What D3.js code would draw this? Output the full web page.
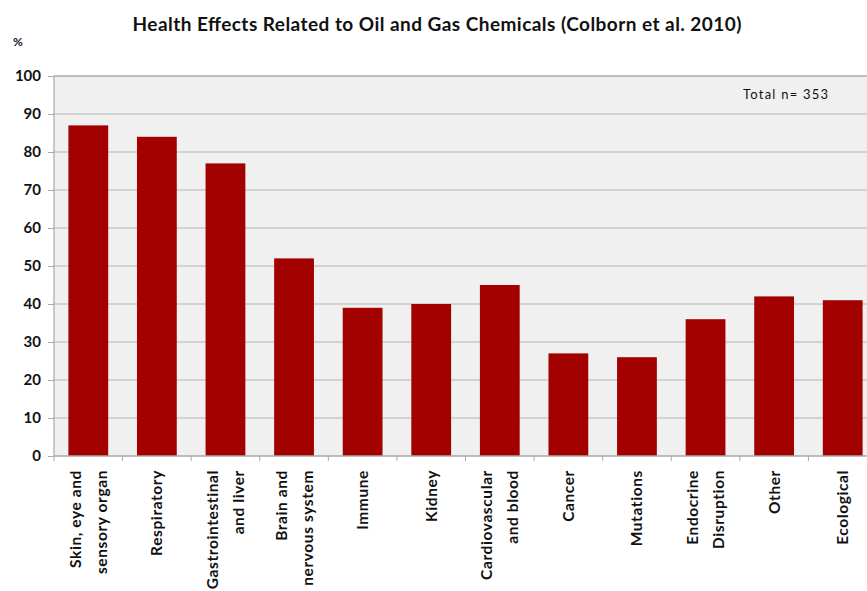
<!DOCTYPE html>
<html>
<head>
<meta charset="utf-8">
<script src="https://cdn.jsdelivr.net/npm/d3@7"></script>
<style>
  body { margin: 0; background: #fff; }
  svg { display: block; font-family: Lato, "Open Sans", sans-serif; }
</style>
</head>
<body>
<svg id="chart" width="867" height="591"></svg>
<script>
// categories (two lines where the label wraps)
var categories = [
  ["Skin, eye and", "sensory organ"],
  ["Respiratory"],
  ["Gastrointestinal", "and liver"],
  ["Brain and", "nervous system"],
  ["Immune"],
  ["Kidney"],
  ["Cardiovascular", "and blood"],
  ["Cancer"],
  ["Mutations"],
  ["Endocrine", "Disruption"],
  ["Other"],
  ["Ecological"]
];
var values = [87, 84, 77, 52, 39, 40, 45, 27, 26, 36, 42, 41];
var yTicks = [0, 10, 20, 30, 40, 50, 60, 70, 80, 90, 100];

var svg = d3.select("#chart");
var margin = {top: 76, left: 54, bottom: 135},
    plotW = 823,
    plotH = 591 - margin.top - margin.bottom;

var x = d3.scaleBand().domain(d3.range(categories.length)).range([margin.left, margin.left + plotW]).paddingInner(0.42).paddingOuter(0.21);
var y = d3.scaleLinear().domain([0, 100]).range([margin.top + plotH, margin.top]);

// plot background
svg.append("rect")
  .attr("x", margin.left).attr("y", margin.top)
  .attr("width", plotW).attr("height", plotH)
  .attr("fill", "#f0f0f0");

// gridlines
svg.append("g").selectAll("line")
  .data(yTicks.slice(1))
  .enter().append("line")
  .attr("x1", margin.left).attr("x2", margin.left + plotW)
  .attr("y1", function (d) { return y(d); })
  .attr("y2", function (d) { return y(d); })
  .attr("stroke", function (d) { return d === 100 ? "#bdbdbd" : "#c9c9c9"; })
  .attr("stroke-width", function (d) { return d === 100 ? 2 : 1.3; });

// left axis line
svg.append("line")
  .attr("x1", margin.left).attr("x2", margin.left)
  .attr("y1", margin.top).attr("y2", y(0))
  .attr("stroke", "#a8a8a8").attr("stroke-width", 1.2);

// bars
svg.append("g").selectAll("rect")
  .data(values)
  .enter().append("rect")
  .attr("x", function (d, i) { return x(i); })
  .attr("y", function (d) { return y(d); })
  .attr("width", x.bandwidth())
  .attr("height", function (d) { return y(0) - y(d); })
  .attr("fill", "#a30000");

// y axis
var yAxis = svg.append("g")
  .attr("transform", "translate(" + margin.left + ",0)")
  .call(d3.axisLeft(y).tickValues(yTicks).tickSize(6).tickPadding(7));
yAxis.select(".domain").remove();
yAxis.selectAll("line").attr("stroke", "#a8a8a8");
yAxis.selectAll("text")
  .attr("fill", "#111").style("font-size", "15px").style("font-weight", "bold")
  .style("font-family", "Lato, sans-serif");

// x axis baseline and ticks at category boundaries
svg.append("line")
  .attr("x1", margin.left).attr("x2", margin.left + plotW)
  .attr("y1", y(0)).attr("y2", y(0))
  .attr("stroke", "#a8a8a8").attr("stroke-width", 1.5);

var step = x.step();
svg.append("g").selectAll("line")
  .data(d3.range(categories.length + 1))
  .enter().append("line")
  .attr("x1", function (i) { return margin.left + i * step; })
  .attr("x2", function (i) { return margin.left + i * step; })
  .attr("y1", y(0)).attr("y2", y(0) + 5)
  .attr("stroke", "#a8a8a8");

// category labels, rotated
var labels = svg.append("g").selectAll("text")
  .data(categories)
  .enter().append("text")
  .attr("transform", function (d, i) {
    return "translate(" + (x(i) + x.bandwidth() / 2) + "," + (y(0) + 14) + ") rotate(-90)";
  })
  .attr("text-anchor", "end")
  .attr("fill", "#111")
  .style("font-size", "15.5px")
  .style("font-weight", "bold")
  .style("letter-spacing", "0.6px");

labels.selectAll("tspan")
  .data(function (d) { return d.map(function (t, j) { return {t: t, j: j, n: d.length}; }); })
  .enter().append("tspan")
  .attr("x", 0)
  .attr("y", function (d) { return (d.j - (d.n - 1) / 2) * 26 + 5.5; })
  .text(function (d) { return d.t; });

// title
svg.append("text")
  .attr("x", 437).attr("y", 31)
  .attr("text-anchor", "middle")
  .attr("fill", "#111")
  .attr("textLength", 609)
  .style("font-size", "19px").style("font-weight", "bold")
  .text("Health Effects Related to Oil and Gas Chemicals (Colborn et al. 2010)");

// y units
svg.append("text")
  .attr("x", 13).attr("y", 46)
  .attr("fill", "#111")
  .style("font-size", "12px").style("font-weight", "bold")
  .text("%");

// total note
svg.append("text")
  .attr("x", 743).attr("y", 99)
  .attr("fill", "#111")
  .attr("textLength", 85)
  .style("font-size", "13px")
  .text("Total n= 353");
</script>
</body>
</html>
